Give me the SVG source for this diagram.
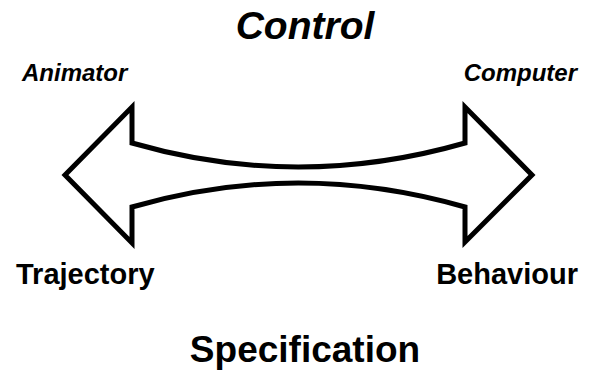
<svg xmlns="http://www.w3.org/2000/svg" width="595" height="372" viewBox="0 0 595 372">
  <style>
    .lbl { font-family: "Liberation Sans", Arial, Helvetica, sans-serif; font-weight: bold; fill: #000; }
    .it { font-style: italic; }
    .outline { fill: none; stroke: #000; stroke-width: 5; stroke-linejoin: miter; stroke-miterlimit: 10; }
  </style>
  <rect width="595" height="372" fill="#fff"/>

  <!-- double-headed arrow with pinched shaft -->
  <g id="connectors">
    <path class="outline" d="M132,143 Q298,191 465,143 L465,107 L532,175 L465,242 L465,207 Q298,159 132,207 L132,243 L65,175 L132,107 Z"/>
  </g>

  <g id="control"><text class="lbl it" x="305" y="39" font-size="39" text-anchor="middle">Control</text></g>
  <g id="animator"><text class="lbl it" x="22" y="81" font-size="24">Animator</text></g>
  <g id="computer"><text class="lbl it" x="577" y="81" font-size="24" text-anchor="end">Computer</text></g>
  <g id="trajectory"><text class="lbl" x="16" y="284" font-size="29">Trajectory</text></g>
  <g id="behaviour"><text class="lbl" x="578" y="284" font-size="29" text-anchor="end">Behaviour</text></g>
  <g id="specification"><text class="lbl" x="305" y="362" font-size="37" text-anchor="middle">Specification</text></g>
</svg>
